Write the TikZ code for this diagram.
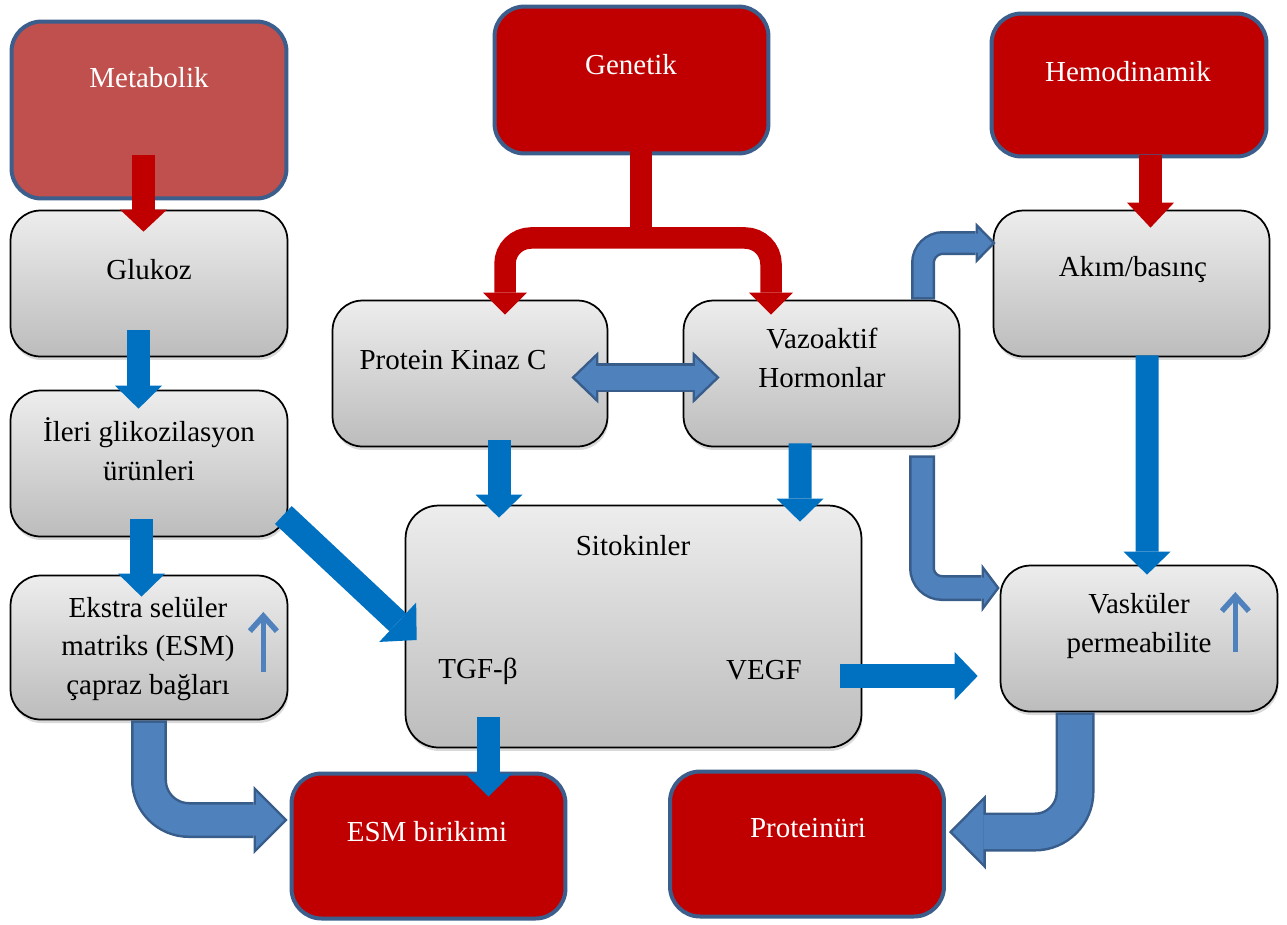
\documentclass[tikz,border=0pt]{standalone}
\usepackage{fontspec}
\setmainfont{Liberation Serif}
\usetikzlibrary{arrows.meta,calc,shadows}
\definecolor{genred}{HTML}{C00000}
\definecolor{metred}{HTML}{C0504D}
\definecolor{edgeblue}{HTML}{3B5E8C}
\definecolor{arrblue}{HTML}{0070C0}
\definecolor{blkfill}{HTML}{4F81BD}
\definecolor{blkedge}{HTML}{385D8A}
\definecolor{gtop}{HTML}{EDEDED}
\definecolor{gbot}{HTML}{BCBCBC}
\tikzset{
  hotbox/.style={draw=edgeblue, line width=0.08cm, fill=#1, rounded corners=0.6cm, inner sep=0pt},
  greybox/.style={draw=black, line width=0.035cm, top color=gtop, bottom color=gbot, rounded corners=0.6cm, inner sep=0pt,
    drop shadow={shadow xshift=0.02cm, shadow yshift=-0.07cm, opacity=0.3}},
  txt/.style={font=\fontsize{16.5}{22}\selectfont, align=center, inner sep=0pt},
  wtxt/.style={txt, text=white},
  redarr/.style={draw=genred, line width=0.46cm, -{Triangle[width=0.94cm, length=0.44cm, line width=0pt]}},
  bluearr/.style={draw=arrblue, line width=0.46cm, -{Triangle[width=0.94cm, length=0.46cm, line width=0pt]}},
  uparr/.style={draw=blkfill, line width=0.11cm, -{Straight Barb[length=0.3cm, width=0.54cm, line cap=butt]}}
}
\begin{document}
\begin{tikzpicture}[x=0.02cm, y=-0.02cm]
\useasboundingbox (0,0) rectangle (1287,924);
% boxes
\node[hotbox=metred, minimum width=5.5cm, minimum height=3.54cm] (metab) at (149,110) {};
\node[hotbox=genred, minimum width=5.48cm, minimum height=2.94cm] (genet) at (631.5,80) {};
\node[hotbox=genred, minimum width=5.5cm, minimum height=2.86cm] (hemo) at (1129,85) {};
\node[greybox, minimum width=5.54cm, minimum height=2.92cm] (gluk) at (149,283.5) {};
\node[greybox, minimum width=5.54cm, minimum height=2.92cm] (ileri) at (149,463.5) {};
\node[greybox, minimum width=5.54cm, minimum height=2.88cm] (ekstra) at (149,647.5) {};
\node[greybox, minimum width=5.5cm, minimum height=2.92cm] (pkc) at (470,373.5) {};
\node[greybox, minimum width=5.52cm, minimum height=2.92cm] (vaz) at (821.5,373.5) {};
\node[greybox, minimum width=5.52cm, minimum height=2.92cm] (akim) at (1131.5,283.5) {};
\node[greybox, minimum width=9.12cm, minimum height=4.84cm, rounded corners=0.66cm] (sito) at (633.5,626.5) {};
\node[greybox, minimum width=5.54cm, minimum height=2.92cm] (vask) at (1139,638.5) {};
\node[hotbox=genred, minimum width=5.48cm, minimum height=2.9cm] (esm) at (428.5,846) {};
\node[hotbox=genred, minimum width=5.48cm, minimum height=2.9cm] (prot) at (807,844) {};
% texts
\node[wtxt] (metab-t) at (149,78) {Metabolik};
\node[wtxt] (genet-t) at (631,65) {Genetik};
\node[wtxt] (hemo-t) at (1128,72) {Hemodinamik};
\node[txt] (gluk-t) at (149,270) {Glukoz};
\node[txt] (ileri-t) at (149,449) {İleri glikozilasyon\\ürünleri};
\node[txt] (ekstra-t) at (148,649) {Ekstra selüler\\matriks (ESM)\\çapraz bağları};
\node[txt] (pkc-t) at (453,360) {Protein Kinaz C};
\node[txt] (vaz-t) at (822,358) {Vazoaktif\\Hormonlar};
\node[txt] (akim-t) at (1133,270) {Akım/basınç};
\node[txt] (sito-t) at (633,546) {Sitokinler};
\node[txt] (tgf-t) at (478,671) {TGF-β};
\node[txt] (vegf-t) at (764,670) {VEGF};
\node[txt] (vask-t) at (1139,626) {Vasküler\\permeabilite};
\node[wtxt] (esm-t) at (427,832) {ESM birikimi};
\node[wtxt] (prot-t) at (808,828) {Proteinüri};
% red arrows
\draw[redarr] ($(metab.south)+(-5.5,-45)$) -- ($(gluk.north)+(-5.5,22)$);
\draw[redarr, -{Triangle[width=0.94cm, length=0.5cm, line width=0pt]}] ($(hemo.south)+(21.5,-3)$) -- ($(akim.north)+(19,18)$);
\coordinate (fork) at ($(genet.south)+(9.5,82.5)$);
\draw[draw=genred, line width=0.44cm] ($(genet.south)+(9.5,-5)$) -- (fork);
\draw[draw=genred, line width=0.43cm, rounded corners=0.52cm,
  {Triangle[width=0.88cm, length=0.44cm, line width=0pt]}-{Triangle[width=0.88cm, length=0.44cm, line width=0pt]}]
  ($(pkc.north)+(35,15)$) |- (fork) -| ($(vaz.north)+(-50.5,15)$);
% blue arrows
\draw[bluearr] ($(gluk.south)+(-10.5,-27)$) -- ($(ileri.north)+(-10.5,19)$);
\draw[bluearr] ($(ileri.south)+(-7.5,-18)$) -- ($(ekstra.north)+(-7.5,22)$);
\draw[bluearr] ($(pkc.south)+(29,-7)$) -- ($(sito.north)+(-134.5,13)$);
\draw[bluearr] ($(vaz.south)+(-21.5,-4)$) -- ($(sito.north)+(166.5,17)$);
\draw[bluearr] ($(akim.south)+(15.5,-2)$) -- ($(vask.north)+(8,10)$);
\draw[bluearr] ($(sito.south)+(-145,-31)$) -- ($(esm.north)+(60,25)$);
\draw[bluearr, line width=0.48cm, -{Triangle[width=0.96cm, length=0.46cm, line width=0pt]}] ($(sito.east)+(-22,49.5)$) -- ($(vask.west)+(-22,37.5)$);
\draw[bluearr, line width=0.49cm, -{Triangle[width=1.08cm, length=0.52cm, line width=0pt]}] ($(ileri.east)+(-5,51.5)$) -- ($(sito.west)+(12,13.5)$);
% block arrows
\foreach \c/\w/\h/\l/\s in {blkedge/0.58/1.04/0.54/0, blkfill/0.48/0.81/0.42/0.072}
  \draw[draw=\c, line width=\w cm, shorten <=\s cm, shorten >=\s cm,
    {Triangle[width=\h cm, length=\l cm, line width=0pt]}-{Triangle[width=\h cm, length=\l cm, line width=0pt]}]
    ($(pkc.east)+(-37,4)$) -- ($(vaz.west)+(37,4)$);
\foreach \c/\w/\h/\l/\s/\t in {blkedge/0.48/0.82/0.40/0/0, blkfill/0.38/0.57/0.28/0.07/0.05}
  \draw[draw=\c, line width=\w cm, rounded corners=0.4cm, shorten <=\t cm, shorten >=\s cm,
    -{Triangle[width=\h cm, length=\l cm, line width=0pt]}]
    ($(vaz.north)+(101.5,0)$) |- ($(akim.west)+(3,-40.5)$);
\foreach \c/\w/\h/\l/\s/\t in {blkedge/0.52/0.96/0.36/0/0, blkfill/0.42/0.66/0.25/0.062/0.05}
  \draw[draw=\c, line width=\w cm, rounded corners=0.4cm, shorten <=\t cm, shorten >=\s cm,
    -{Triangle[width=\h cm, length=\l cm, line width=0pt]}]
    ($(vaz.south)+(100.5,8)$) |- ($(vask.west)+(0,-50.5)$);
\foreach \c/\w/\h/\l/\s/\t in {blkedge/0.72/1.36/0.68/0/0, blkfill/0.62/1.12/0.56/0.07/0.05}
  \draw[draw=\c, line width=\w cm, rounded corners=0.8cm, shorten <=\t cm, shorten >=\s cm,
    -{Triangle[width=\h cm, length=\l cm, line width=0pt]}]
    (ekstra.south) |- ($(esm.west)+(-2,-26)$);
\foreach \c/\w/\h/\l/\s/\t in {blkedge/0.78/1.5/0.74/0/0, blkfill/0.68/1.26/0.62/0.07/0.05}
  \draw[draw=\c, line width=\w cm, rounded corners=0.8cm, shorten <=\t cm, shorten >=\s cm,
    -{Triangle[width=\h cm, length=\l cm, line width=0pt]}]
    ($(vask.south)+(-64,0)$) |- ($(prot.east)+(3,-12)$);
% small up arrows
\draw[uparr] ($(ekstra.east)+(-25,24.5)$) -- ($(ekstra.east)+(-25,-35.5)$);
\draw[uparr] ($(vask.east)+(-43,13.5)$) -- ($(vask.east)+(-43,-46.5)$);
\end{tikzpicture}
\end{document}
